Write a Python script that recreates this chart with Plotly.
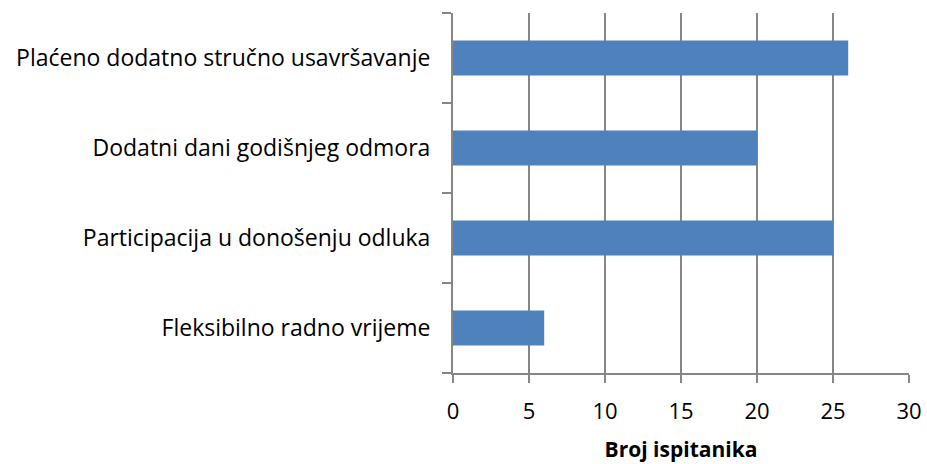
import plotly.graph_objects as go

categories = ["Fleksibilno radno vrijeme", "Participacija u donošenju odluka",
              "Dodatni dani godišnjeg odmora", "Plaćeno dodatno stručno usavršavanje"]
values = [6, 25, 20, 26]
x_ticks = [0, 5, 10, 15, 20, 25, 30]
x_title = "Broj ispitanika"

FONT = "Open Sans"
GRID = "#868686"

fig = go.Figure(go.Bar(
    x=values, y=categories, orientation="h",
    marker=dict(color="#4F81BD", line=dict(width=0)),
    width=0.39,
))

fig.update_layout(
    width=927, height=464,
    margin=dict(l=453, r=18, t=13, b=91),
    paper_bgcolor="white", plot_bgcolor="white",
    showlegend=False,
    font=dict(family=FONT, size=23, color="#000000"),
)
fig.update_xaxes(
    range=[0, 30], tickvals=x_ticks, ticktext=[str(v) for v in x_ticks],
    showgrid=True, gridcolor=GRID, gridwidth=2,
    showline=True, linecolor=GRID, linewidth=2,
    ticks="outside", ticklen=8, tickwidth=2, tickcolor=GRID,
    zeroline=False, automargin=False,
    tickfont=dict(family=FONT, size=22),
    ticklabelstandoff=10,
    title=dict(text="<b>" + x_title + "</b>", font=dict(family=FONT, size=21), standoff=18),
)
fig.update_yaxes(
    showgrid=False, showline=True, linecolor=GRID, linewidth=2,
    ticks="outside", ticklen=9, tickwidth=2, tickcolor=GRID,
    tickson="boundaries", zeroline=False, automargin=False,
    tickfont=dict(family=FONT, size=23),
    ticklabelstandoff=16,
)

fig.write_html("out.html", config={"displayModeBar": False},
               post_script="document.body.style.margin='0';document.body.style.padding='0';")
